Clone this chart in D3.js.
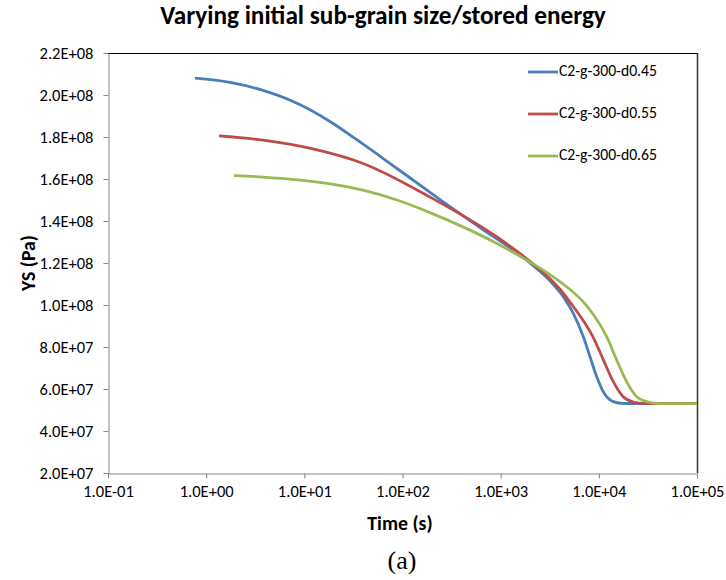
<!DOCTYPE html>
<html>
<head>
<meta charset="utf-8">
<script src="https://cdn.jsdelivr.net/npm/d3@7"></script>
<style>
  html, body { margin: 0; padding: 0; background: #fff; }
  svg { display: block; }
</style>
</head>
<body>
<svg id="chart" width="726" height="580" font-family="Carlito, Lato, 'Open Sans', sans-serif"></svg>
<script>
// Yield strength vs. annealing time for three initial sub-grain sizes
const seriesNames = ["C2-g-300-d0.45", "C2-g-300-d0.55", "C2-g-300-d0.65"];
const seriesColors = ["#4A7EBB", "#BE4B48", "#98B954"];

// time (s)
const timeD045 = [0.769, 1.75, 3.79, 8.42, 18.26, 32.8, 87.9, 241, 616, 1854, 3177, 4345, 5495, 6950, 8128, 9506, 11092, 14028, 17742, 100000];
// yield strength (Pa)
const ysD045 = [2.080e8, 2.060e8, 2.022e8, 1.961e8, 1.874e8, 1.793e8, 1.650e8, 1.502e8, 1.369e8, 1.212e8, 1.115e8, 1.040e8, 9.60e7, 8.49e7, 7.54e7, 6.59e7, 5.87e7, 5.40e7, 5.31e7, 5.30e7];

const timeD055 = [1.351, 3.79, 12.25, 39.6, 190.5, 917, 1854, 3177, 4018, 5248, 6950, 8790, 11092, 14028, 17742, 22439, 28379, 100000];
const ysD055 = [1.805e8, 1.785e8, 1.743e8, 1.674e8, 1.514e8, 1.324e8, 1.219e8, 1.125e8, 1.075e8, 1.005e8, 9.25e7, 8.45e7, 7.40e7, 6.35e7, 5.63e7, 5.38e7, 5.31e7, 5.30e7];

const timeD065 = [1.92, 3.79, 8.42, 18.26, 39.6, 87.9, 190.5, 413, 917, 1854, 3177, 4699, 6950, 8790, 12023, 15205, 19187, 24266, 30690, 38815, 100000];
const ysD065 = [1.616e8, 1.609e8, 1.596e8, 1.577e8, 1.547e8, 1.500e8, 1.440e8, 1.372e8, 1.293e8, 1.213e8, 1.145e8, 1.087e8, 1.015e8, 9.55e7, 8.49e7, 7.38e7, 6.35e7, 5.63e7, 5.40e7, 5.32e7, 5.30e7];

const xTickValues = [1e-1, 1e0, 1e1, 1e2, 1e3, 1e4, 1e5];
const xTickLabels = ["1.0E-01", "1.0E+00", "1.0E+01", "1.0E+02", "1.0E+03", "1.0E+04", "1.0E+05"];
const yTickValues = [2.0e7, 4.0e7, 6.0e7, 8.0e7, 1.0e8, 1.2e8, 1.4e8, 1.6e8, 1.8e8, 2.0e8, 2.2e8];
const yTickLabels = ["2.0E+07", "4.0E+07", "6.0E+07", "8.0E+07", "1.0E+08", "1.2E+08", "1.4E+08", "1.6E+08", "1.8E+08", "2.0E+08", "2.2E+08"];

const chartTitle = "Varying initial sub-grain size/stored energy";
const xTitle = "Time (s)";
const yTitle = "YS (Pa)";
const caption = "(a)";

const series = [
  { name: seriesNames[0], color: seriesColors[0], pts: timeD045.map((t, i) => [t, ysD045[i]]) },
  { name: seriesNames[1], color: seriesColors[1], pts: timeD055.map((t, i) => [t, ysD055[i]]) },
  { name: seriesNames[2], color: seriesColors[2], pts: timeD065.map((t, i) => [t, ysD065[i]]) }
];

const FONT = "Carlito, Lato, 'Open Sans', sans-serif";
const svg = d3.select("#chart");
const plot = { left: 108, right: 697, top: 53, bottom: 473 };

const x = d3.scaleLog().domain([1e-1, 1e5]).range([plot.left, plot.right]);
const y = d3.scaleLinear().domain([2.0e7, 2.2e8]).range([plot.bottom, plot.top]);

// Size a text element's font so the rendered string spans the given width.
function fitFont(textSel, width, base) {
  textSel.attr("font-size", base);
  const w = textSel.node().getComputedTextLength();
  return w > 0 ? base * width / w : base;
}

// plot-area frame (top and right edges)
svg.append("line")
  .attr("x1", plot.left).attr("x2", plot.right)
  .attr("y1", plot.top + 0.5).attr("y2", plot.top + 0.5)
  .attr("stroke", "#000").attr("stroke-width", 1);
svg.append("line")
  .attr("x1", plot.right + 0.5).attr("x2", plot.right + 0.5)
  .attr("y1", plot.top).attr("y2", plot.bottom)
  .attr("stroke", "#333").attr("stroke-width", 1.5);

// axes
const yAxis = d3.axisLeft(y)
  .tickValues(yTickValues)
  .tickFormat((d, i) => yTickLabels[i])
  .tickSizeInner(5).tickSizeOuter(0).tickPadding(10);
const gy = svg.append("g").attr("transform", `translate(${plot.left + 0.5},0)`).call(yAxis);

const xAxis = d3.axisBottom(x)
  .tickValues(xTickValues)
  .tickFormat((d, i) => xTickLabels[i])
  .tickSizeInner(5).tickSizeOuter(0).tickPadding(9);
const gx = svg.append("g").attr("transform", `translate(0,${plot.bottom + 0.5})`).call(xAxis);

gx.attr("font-family", FONT);
gy.attr("font-family", FONT);
const tickSample = gy.selectAll(".tick text").filter((d, i) => i === yTickValues.length - 1);
const tickSize = fitFont(tickSample, 54, 14);

[gx, gy].forEach(g => {
  g.attr("font-size", tickSize);
  g.select(".domain").attr("stroke", "#868686").attr("stroke-width", 1);
  g.selectAll(".tick line").attr("stroke", "#868686");
  g.selectAll(".tick text")
    .attr("font-size", tickSize)
    .attr("fill", "#000");
});
gx.selectAll(".tick text").attr("dy", null).attr("y", 20).attr("dominant-baseline", "middle");

// curves
const line = d3.line()
  .x(d => x(d[0]))
  .y(d => y(d[1]))
  .curve(d3.curveMonotoneX);

svg.append("g").selectAll("path")
  .data(series)
  .join("path")
  .attr("d", d => line(d.pts))
  .attr("fill", "none")
  .attr("stroke", d => d.color)
  .attr("stroke-width", 2.8)
  .attr("stroke-linejoin", "round")
  .attr("stroke-linecap", "butt");

// legend
const legend = svg.append("g");
const legendTexts = [];
series.forEach((s, i) => {
  const ly = 72 + i * 42;
  legend.append("line")
    .attr("x1", 528).attr("x2", 558)
    .attr("y1", ly).attr("y2", ly)
    .attr("stroke", s.color).attr("stroke-width", 2.8);
  legendTexts.push(legend.append("text")
    .attr("x", 559).attr("y", ly)
    .attr("dominant-baseline", "middle")
    .text(s.name));
});
const legendSize = fitFont(legendTexts[0], 98, 14);
legendTexts.forEach(t => t.attr("font-size", legendSize));

// titles
const titleText = svg.append("text")
  .attr("x", 383).attr("y", 18)
  .attr("dominant-baseline", "middle")
  .attr("text-anchor", "middle")
  .attr("font-weight", "bold")
  .text(chartTitle);
titleText.attr("font-size", fitFont(titleText, 446, 20));

const yTitleText = svg.append("text")
  .attr("transform", "translate(30,263) rotate(-90)")
  .attr("dominant-baseline", "middle")
  .attr("text-anchor", "middle")
  .attr("font-weight", "bold")
  .text(yTitle);
const axisTitleSize = fitFont(yTitleText, 56, 16);
yTitleText.attr("font-size", axisTitleSize);

svg.append("text")
  .attr("x", 400).attr("y", 525)
  .attr("dominant-baseline", "middle")
  .attr("text-anchor", "middle")
  .attr("font-size", axisTitleSize)
  .attr("font-weight", "bold")
  .text(xTitle);

// figure panel label
svg.append("text")
  .attr("x", 402).attr("y", 563)
  .attr("dominant-baseline", "middle")
  .attr("text-anchor", "middle")
  .attr("font-family", "'Liberation Serif', 'Times New Roman', serif")
  .attr("font-size", 26)
  .text(caption);
</script>
</body>
</html>
